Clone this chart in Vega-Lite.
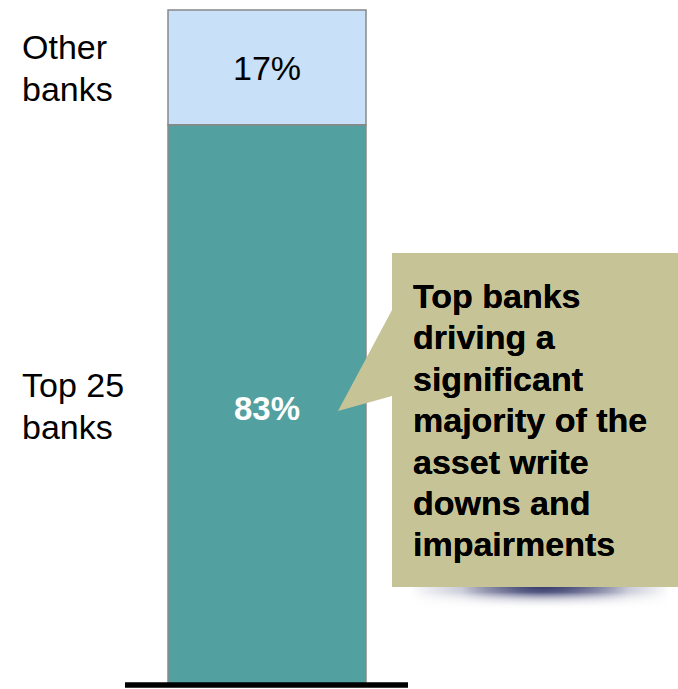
{
  "$schema": "https://vega.github.io/schema/vega-lite/v6.json",
  "width": 678,
  "height": 689,
  "padding": 0,
  "autosize": {"type": "none"},
  "background": "white",
  "config": {"view": {"stroke": null}, "font": "Liberation Sans"},
  "data": {
    "values": [
      {"group": "Top 25 banks", "label": "Top 25\nbanks", "share": 83, "order": 1},
      {"group": "Other banks", "label": "Other\nbanks", "share": 17, "order": 2}
    ]
  },
  "transform": [
    {"stack": "share", "groupby": [], "as": ["s0", "s1"], "sort": [{"field": "order", "order": "ascending"}]},
    {"calculate": "(datum.s0 + datum.s1) / 2", "as": "mid"},
    {"calculate": "datum.share + '%'", "as": "pct"}
  ],
  "layer": [
    {
      "mark": {"type": "rect", "stroke": "#888888", "strokeWidth": 1.5},
      "encoding": {
        "x": {"datum": 0, "type": "quantitative", "scale": {"domain": [-0.8485, 2.5758], "nice": false, "zero": false}, "axis": null},
        "x2": {"datum": 1},
        "y": {"field": "s0", "type": "quantitative", "scale": {"domain": [-0.5926, 101.48], "nice": false, "zero": false}, "axis": null},
        "y2": {"field": "s1"},
        "color": {"field": "group", "type": "nominal", "scale": {"domain": ["Top 25 banks", "Other banks"], "range": ["#52a09f", "#c8e0f8"]}, "legend": null}
      }
    },
    {
      "transform": [{"filter": "datum.group === 'Other banks'"}],
      "mark": {"type": "text", "fontSize": 34, "color": "#000000", "align": "center", "baseline": "middle", "dy": 3},
      "encoding": {
        "x": {"datum": 0.5, "type": "quantitative"},
        "y": {"field": "mid", "type": "quantitative"},
        "text": {"field": "pct"}
      }
    },
    {
      "transform": [{"filter": "datum.group === 'Top 25 banks'"}],
      "mark": {"type": "text", "fontSize": 33, "fontWeight": "bold", "color": "#ffffff", "align": "center", "baseline": "middle", "dy": 5},
      "encoding": {
        "x": {"datum": 0.5, "type": "quantitative"},
        "y": {"field": "mid", "type": "quantitative"},
        "text": {"field": "pct"}
      }
    },
    {
      "mark": {"type": "text", "fontSize": 34, "color": "#000000", "align": "left", "baseline": "middle", "lineBreak": "\n", "lineHeight": 42, "dy": -18},
      "encoding": {
        "x": {"datum": -0.7374, "type": "quantitative"},
        "y": {"field": "mid", "type": "quantitative"},
        "text": {"field": "label"}
      }
    },
    {
      "mark": {"type": "rule", "color": "#000000", "strokeWidth": 5},
      "encoding": {
        "x": {"datum": -0.2172, "type": "quantitative"},
        "x2": {"datum": 1.2121},
        "y": {"datum": 0, "type": "quantitative"}
      }
    },
    {
      "mark": {
        "type": "rect",
        "color": {
          "gradient": "linear",
          "x1": 0, "y1": 0, "x2": 1, "y2": 0,
          "stops": [
            {"offset": 0, "color": "rgba(50,55,105,0)"},
            {"offset": 0.2, "color": "rgba(50,55,105,0.15)"},
            {"offset": 0.38, "color": "rgba(50,55,105,0.55)"},
            {"offset": 0.51, "color": "rgba(50,55,105,0.95)"},
            {"offset": 0.66, "color": "rgba(50,55,105,0.55)"},
            {"offset": 0.84, "color": "rgba(50,55,105,0.15)"},
            {"offset": 1, "color": "rgba(50,55,105,0)"}
          ]
        }
      },
      "encoding": {
        "x": {"datum": 1.2222, "type": "quantitative"},
        "x2": {"datum": 2.5354},
        "y": {"datum": 14.7, "type": "quantitative"},
        "y2": {"datum": 10.96}
      }
    },
    {
      "mark": {
        "type": "rect",
        "color": {
          "gradient": "linear",
          "x1": 0, "y1": 0, "x2": 0, "y2": 1,
          "stops": [
            {"offset": 0, "color": "rgba(255,255,255,0)"},
            {"offset": 0.25, "color": "rgba(255,255,255,0.08)"},
            {"offset": 0.55, "color": "rgba(255,255,255,0.55)"},
            {"offset": 0.85, "color": "rgba(255,255,255,0.92)"},
            {"offset": 1, "color": "rgba(255,255,255,1)"}
          ]
        }
      },
      "encoding": {
        "x": {"datum": 1.2, "type": "quantitative"},
        "x2": {"datum": 2.5758},
        "y": {"datum": 14.7, "type": "quantitative"},
        "y2": {"datum": 10.9}
      }
    },
    {
      "data": {
        "values": [
          {"px": 0.8586, "top": 40.59, "bottom": 40.59},
          {"px": 1.1313, "top": 55.56, "bottom": 42.81},
          {"px": 1.1314, "top": 64.0, "bottom": 14.52},
          {"px": 2.5758, "top": 64.0, "bottom": 14.52}
        ]
      },
      "mark": {"type": "area", "color": "#c6c396", "interpolate": "linear", "opacity": 1},
      "encoding": {
        "x": {"field": "px", "type": "quantitative"},
        "y": {"field": "top", "type": "quantitative"},
        "y2": {"field": "bottom"}
      }
    },
    {
      "mark": {"type": "text", "fontSize": 34, "fontWeight": "bold", "color": "#000000", "align": "left", "baseline": "alphabetic", "lineBreak": "\n", "lineHeight": 41.4},
      "encoding": {
        "x": {"datum": 1.2374, "type": "quantitative"},
        "y": {"datum": 55.85, "type": "quantitative"},
        "text": {"value": "Top banks\ndriving a\nsignificant\nmajority of the\nasset write\ndowns and\nimpairments"}
      }
    }
  ]
}
